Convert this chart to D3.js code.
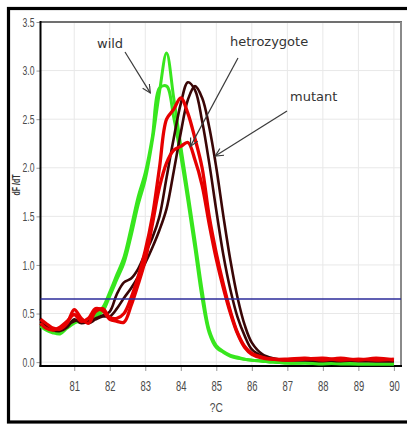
<!DOCTYPE html>
<html>
<head>
<meta charset="utf-8">
<script src="https://cdn.jsdelivr.net/npm/d3@7"></script>
<style>
  html, body { margin: 0; padding: 0; background: #fff; }
  svg { display: block; }
</style>
</head>
<body>
<svg id="chart" width="407" height="425"></svg>
<script>
// Melting-curve derivative (dF/dT) traces
const temps = [80.05, 80.2, 80.4, 80.6, 80.8, 81.0, 81.2, 81.4, 81.6, 81.8,
               82.0, 82.2, 82.4, 82.6, 82.8, 83.0, 83.2, 83.4, 83.6, 83.8,
               84.0, 84.2, 84.4, 84.6, 84.8, 85.0, 85.2, 85.4, 85.6, 85.8,
               86.0, 86.3, 86.6, 87.0, 87.5, 88.0, 88.5, 89.0, 89.5, 90.0];

const wildA = [0.40, 0.36, 0.31, 0.29, 0.35, 0.40, 0.43, 0.41, 0.47, 0.52,
               0.68, 0.85, 1.02, 1.30, 1.62, 1.88, 2.28, 2.78, 3.18, 2.72,
               2.22, 1.74, 1.25, 0.74, 0.33, 0.17, 0.11, 0.07, 0.05, 0.03,
               0.02, 0.01, 0.00, -0.01, -0.01, -0.01, -0.02, -0.02, -0.02, -0.02];
const wildB = [0.37, 0.33, 0.30, 0.31, 0.37, 0.42, 0.41, 0.44, 0.49, 0.56,
               0.72, 0.90, 1.08, 1.38, 1.70, 1.95, 2.32, 2.82, 2.84, 2.52,
               2.12, 1.66, 1.17, 0.66, 0.30, 0.15, 0.10, 0.06, 0.04, 0.03,
               0.02, 0.01, 0.00, -0.01, -0.01, -0.02, -0.01, -0.02, -0.02, -0.02];
const mutantA = [0.42, 0.38, 0.33, 0.32, 0.36, 0.44, 0.40, 0.42, 0.45, 0.48,
                 0.52, 0.70, 0.82, 0.86, 0.96, 1.12, 1.28, 1.50, 1.90, 2.30,
                 2.66, 2.88, 2.80, 2.48, 2.05, 1.56, 1.10, 0.74, 0.46, 0.27,
                 0.13, 0.06, 0.03, 0.02, 0.02, 0.01, 0.02, 0.01, 0.01, 0.01];
const mutantB = [0.45, 0.36, 0.34, 0.33, 0.38, 0.42, 0.44, 0.40, 0.44, 0.47,
                 0.47, 0.55, 0.66, 0.76, 0.88, 1.02, 1.18, 1.36, 1.58, 1.96,
                 2.36, 2.70, 2.84, 2.72, 2.42, 2.00, 1.50, 1.04, 0.66, 0.38,
                 0.20, 0.08, 0.04, 0.02, 0.02, 0.02, 0.01, 0.02, 0.01, 0.01];
const hetA = [0.44, 0.40, 0.35, 0.34, 0.40, 0.54, 0.45, 0.40, 0.52, 0.55,
              0.46, 0.45, 0.50, 0.66, 0.88, 1.15, 1.50, 2.00, 2.50, 2.60,
              2.72, 2.56, 2.30, 2.00, 1.50, 1.12, 0.80, 0.52, 0.30, 0.16,
              0.09, 0.05, 0.03, 0.03, 0.04, 0.02, 0.04, 0.02, 0.04, 0.02];
const hetB = [0.40, 0.35, 0.33, 0.36, 0.42, 0.49, 0.42, 0.45, 0.55, 0.53,
              0.44, 0.42, 0.41, 0.58, 0.80, 1.05, 1.42, 1.80, 2.05, 2.18,
              2.22, 2.26, 2.08, 1.82, 1.42, 1.06, 0.76, 0.50, 0.29, 0.15,
              0.08, 0.04, 0.03, 0.02, 0.03, 0.04, 0.02, 0.03, 0.02, 0.03];

const thresholdValue = 0.65;
const xTicks = [81, 82, 83, 84, 85, 86, 87, 88, 89, 90];
const yTicks = [0.0, 0.5, 1.0, 1.5, 2.0, 2.5, 3.0, 3.5];
const xTitle = "?C";
const yTitle = "dF /dT";

const svg = d3.select("#chart");
const plotLeft = 40.5, plotRight = 401, plotTop = 22, plotBottom = 366;

const x = d3.scaleLinear().domain([80.05, 90.2]).range([plotLeft, plotRight]);
const y = d3.scaleLinear().domain([-0.04, 3.5]).range([plotBottom, plotTop]);

// outer frame
svg.append("rect")
  .attr("x", 8.5).attr("y", 8.5).attr("width", 410).attr("height", 413.5)
  .attr("fill", "none").attr("stroke", "#000").attr("stroke-width", 3.2);

// grid
const grid = svg.append("g");
grid.selectAll(".vx").data(xTicks).join("line")
  .attr("x1", d => x(d)).attr("x2", d => x(d))
  .attr("y1", plotTop).attr("y2", plotBottom)
  .attr("stroke", "#e8e8e8").attr("stroke-width", 1);
grid.selectAll(".hy").data(yTicks).join("line")
  .attr("x1", plotLeft).attr("x2", plotRight)
  .attr("y1", d => y(d)).attr("y2", d => y(d))
  .attr("stroke", "#e8e8e8").attr("stroke-width", 1);

// axes
const xAxis = svg.append("g").attr("transform", `translate(0,${plotBottom})`)
  .call(d3.axisBottom(x).tickValues(xTicks).tickSize(5).tickPadding(10).tickFormat(d3.format("d")));
const yAxis = svg.append("g").attr("transform", `translate(${plotLeft},0)`)
  .call(d3.axisLeft(y).tickValues(yTicks).tickSize(4).tickPadding(2).tickFormat(d3.format(".1f")));
[xAxis, yAxis].forEach(g => {
  g.select(".domain").remove();
  g.selectAll(".tick line").attr("stroke", "#999");
});
xAxis.selectAll("text")
  .attr("font-family", "'Liberation Sans Narrow', 'Liberation Sans', Arial, sans-serif")
  .attr("font-size", 14.5).attr("fill", "#4a4a4a")
  .attr("textLength", 10.5).attr("lengthAdjust", "spacingAndGlyphs");
yAxis.selectAll("text")
  .attr("font-family", "'Liberation Sans Narrow', 'Liberation Sans', Arial, sans-serif")
  .attr("font-size", 13).attr("fill", "#4a4a4a")
  .attr("textLength", 12).attr("lengthAdjust", "spacingAndGlyphs");

// plot frame
svg.append("line").attr("x1", plotLeft).attr("x2", plotRight + 1).attr("y1", plotTop).attr("y2", plotTop)
  .attr("stroke", "#707070").attr("stroke-width", 2);
svg.append("line").attr("x1", plotRight).attr("x2", plotRight).attr("y1", plotTop).attr("y2", plotBottom)
  .attr("stroke", "#8a8a8a").attr("stroke-width", 2);
svg.append("line").attr("x1", plotLeft).attr("x2", plotLeft).attr("y1", plotTop - 1).attr("y2", plotBottom + 1)
  .attr("stroke", "#000").attr("stroke-width", 2);
svg.append("line").attr("x1", plotLeft - 1).attr("x2", plotRight + 1).attr("y1", plotBottom).attr("y2", plotBottom)
  .attr("stroke", "#000").attr("stroke-width", 2);

// axis titles
svg.append("text").text(xTitle)
  .attr("x", x(85)).attr("y", 412)
  .attr("text-anchor", "middle")
  .attr("font-family", "'Liberation Sans Narrow', 'Liberation Sans', Arial, sans-serif")
  .attr("font-size", 12).attr("fill", "#4a4a4a")
  .attr("textLength", 13).attr("lengthAdjust", "spacingAndGlyphs");
svg.append("text").text(yTitle)
  .attr("transform", "translate(20,185) rotate(-90)")
  .attr("text-anchor", "middle")
  .attr("font-family", "'Liberation Sans Narrow', 'Liberation Sans', Arial, sans-serif")
  .attr("font-size", 10).attr("font-weight", "bold").attr("fill", "#333")
  .attr("textLength", 21).attr("lengthAdjust", "spacingAndGlyphs");

// traces
const series = [
  { values: wildA,   color: "#38e61e", width: 3 },
  { values: wildB,   color: "#38e61e", width: 3 },
  { values: mutantA, color: "#3a0606", width: 2.6 },
  { values: mutantB, color: "#3a0606", width: 2.6 },
  { values: hetA,    color: "#e60000", width: 3.3 },
  { values: hetB,    color: "#e60000", width: 3.3 }
];
const line = d3.line()
  .x((d, i) => x(temps[i]))
  .y(d => y(d))
  .curve(d3.curveCatmullRom.alpha(0.5));
svg.append("g").selectAll("path").data(series).join("path")
  .attr("d", d => line(d.values))
  .attr("fill", "none")
  .attr("stroke", d => d.color)
  .attr("stroke-width", d => d.width)
  .attr("stroke-linejoin", "round");

// threshold
svg.append("line")
  .attr("x1", plotLeft).attr("x2", plotRight)
  .attr("y1", y(thresholdValue)).attr("y2", y(thresholdValue))
  .attr("stroke", "#2b2b9a").attr("stroke-width", 1.5);

// annotations
svg.append("defs").append("marker")
  .attr("id", "arrow").attr("markerUnits", "userSpaceOnUse")
  .attr("markerWidth", 12).attr("markerHeight", 12)
  .attr("refX", 9).attr("refY", 4).attr("orient", "auto")
  .append("path").attr("d", "M1,0 L9,4 L1,8")
  .attr("fill", "none").attr("stroke", "#3a3a3a").attr("stroke-width", 1.2);

const notes = [
  { label: "wild",        tx: 97,  ty: 48,  from: [125, 52],  to: [83.14, 2.77] },
  { label: "hetrozygote", tx: 230, ty: 46,  from: [238, 58],  to: [84.27, 2.22] },
  { label: "mutant",      tx: 290, ty: 101, from: [287, 111], to: [84.97, 2.12] }
];
const ann = svg.append("g");
notes.forEach(n => {
  ann.append("line")
    .attr("x1", n.from[0]).attr("y1", n.from[1])
    .attr("x2", x(n.to[0])).attr("y2", y(n.to[1]))
    .attr("stroke", "#3a3a3a").attr("stroke-width", 1.2)
    .attr("marker-end", "url(#arrow)");
  ann.append("text").text(n.label)
    .attr("x", n.tx).attr("y", n.ty)
    .attr("font-family", "'DejaVu Sans', sans-serif")
    .attr("font-size", 13).attr("fill", "#333");
});
</script>
</body>
</html>
